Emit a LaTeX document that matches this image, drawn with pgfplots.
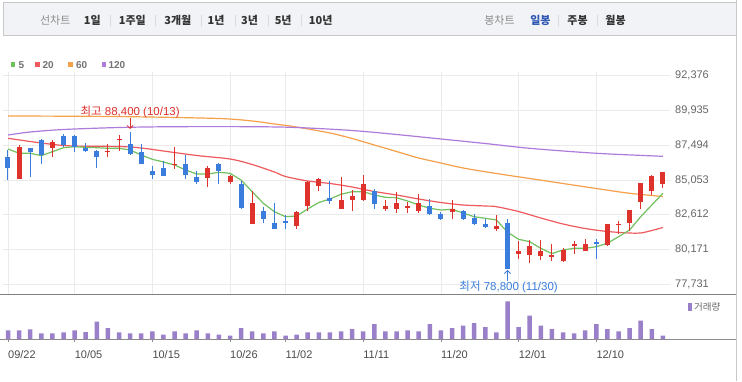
\documentclass[border=0pt]{standalone}
\usepackage{pgfplots}
\pgfplotsset{compat=1.18}
\usepackage{pgfplotstable}
\usepackage{fontspec}
\usetikzlibrary{arrows.meta}
\setmainfont{Liberation Sans}
\newfontfamily\kr{Noto Sans CJK KR}
\definecolor{cred}{HTML}{DE322D}
\definecolor{cblue}{HTML}{3B7DDD}
\definecolor{mafive}{HTML}{72C05E}
\definecolor{matwenty}{HTML}{EE5A5E}
\definecolor{masixty}{HTML}{F5A04A}
\definecolor{maonetwenty}{HTML}{AE7BDD}
\definecolor{vol}{HTML}{9A80C8}
\definecolor{gridc}{HTML}{EBEBEB}
\definecolor{txt}{HTML}{666666}
\definecolor{barfill}{HTML}{F1F3F6}
\definecolor{barline}{HTML}{C8C8C8}
\definecolor{seltxt}{HTML}{2F58B4}

\pgfplotstableread{
i O H L C
1 85100 87500 85100 87350
4 87300 87850 86700 87700
9 87000 87550 86700 87100
10 87850 88200 87100 87950
15 86100 87350 85850 86200
18 85200 86000 84550 85900
20 84900 85400 84800 85350
22 82000 84300 82000 83450
26 81800 82850 81650 82800
27 83250 84950 82850 84900
28 84600 85200 84250 85100
30 83050 85250 83050 83650
31 83650 84350 82900 83950
32 83650 85400 83600 84800
34 83050 83650 82900 83200
35 83050 84200 82750 83450
36 83100 83500 82750 83200
37 82850 84100 82750 83450
40 82800 83650 82300 83050
44 81600 82600 81500 81850
46 79900 80750 79550 80050
47 79800 80850 79250 80400
48 79750 80850 79450 80050
49 79650 80550 79350 79800
50 79350 80300 79300 80150
51 80400 80750 79900 80550
52 80100 80900 80050 80550
54 80500 82000 80400 81950
55 81900 82150 81250 82000
56 82050 82950 81500 82950
57 83500 84850 83050 84850
58 84300 85400 84000 85350
59 84750 85600 84500 85600
}\upT

\pgfplotstableread{
i O H L C
0 86700 87150 85050 85900
2 87300 87300 85250 87000
3 87850 87950 86200 86800
5 88150 88300 87400 87500
6 88150 88200 87050 87400
7 87300 87650 87000 87100
8 87100 87150 85900 86700
11 87600 88400 86800 86900
12 87000 87600 86150 86150
13 85650 86000 85150 85400
14 85900 86400 85300 85350
16 86200 86800 85100 85400
17 85250 85650 84800 84900
19 86200 86250 84800 85700
21 84750 84950 83050 83100
23 82900 83150 82050 82350
24 82050 83450 81650 81650
25 82200 82600 81650 82050
29 83800 84950 83400 83550
33 84250 84450 83050 83400
38 83200 83750 82600 82650
39 82650 82800 82250 82300
41 82900 82950 82250 82300
42 82400 82650 81900 81950
43 82000 82300 81700 81750
45 82050 82300 78800 78800
53 80700 80950 79550 80600
}\downT

\pgfplotstableread{
i v
0 87000
1 87000
2 97000
3 57000
4 57000
5 67000
6 87000
7 70000
8 173000
9 110000
10 67000
11 57000
12 57000
13 77000
14 43000
15 77000
16 57000
17 87000
18 57000
19 43000
20 33000
21 110000
22 77000
23 57000
24 77000
25 33000
26 43000
27 67000
28 67000
29 67000
30 77000
31 100000
32 77000
33 150000
34 77000
35 77000
36 87000
37 77000
38 150000
39 87000
40 110000
41 133000
42 160000
43 120000
44 67000
45 377000
46 120000
47 233000
48 133000
49 100000
50 67000
51 57000
52 87000
53 150000
54 100000
55 77000
56 110000
57 183000
58 100000
59 33000
}\volT

\begin{document}
\begin{tikzpicture}
\useasboundingbox (0pt,0pt) rectangle (742pt,381pt);
\fill[white] (0pt,0pt) rectangle (742pt,381pt);
% top bar
\filldraw[fill=barfill, draw=barline, line width=1pt] (3pt,345pt) rectangle (736pt,378pt);
\draw[barline, line width=1pt] (736pt,0pt) -- (736pt,381pt);
\begin{scope}[every node/.style={font=\kr\bfseries\fontsize{11}{13}\selectfont, inner sep=0pt, text=black!80}]
\node[text=black!45, font=\kr\fontsize{11}{13}\selectfont] at (55.2pt,360.3pt) {선차트};
\node at (92.3pt,360.3pt) {1일};
\node at (132.3pt,360.3pt) {1주일};
\node at (177.8pt,360.3pt) {3개월};
\node at (216pt,360.3pt) {1년};
\node at (249.5pt,360.3pt) {3년};
\node at (283.2pt,360.3pt) {5년};
\node at (320.7pt,360.3pt) {10년};
\node[text=black!45, font=\kr\fontsize{11}{13}\selectfont] at (499.5pt,360.3pt) {봉차트};
\node[text=seltxt] at (540.4pt,360.3pt) {일봉};
\node at (577.5pt,360.3pt) {주봉};
\node at (615.5pt,360.3pt) {월봉};
\end{scope}
\foreach \sx in {110,155,201.7,235,268.3,301.7,558.3,597.7}{
  \draw[black!15, line width=0.8pt] (\sx pt,355pt) -- (\sx pt,366pt);
}
% legend
\begin{scope}[every node/.style={font=\bfseries\fontsize{10}{12}\selectfont, text=black!55, inner sep=0pt, anchor=west}]
\fill[mafive] (10.7pt,313.7pt) rectangle (15.3pt,318.7pt); \node at (18.5pt,316.2pt) {5};
\fill[matwenty] (35pt,313.7pt) rectangle (39.6pt,318.7pt); \node at (42.3pt,316.2pt) {20};
\fill[masixty] (68.3pt,313.7pt) rectangle (72.9pt,318.7pt); \node at (75.8pt,316.2pt) {60};
\fill[maonetwenty] (101.7pt,313.7pt) rectangle (106.3pt,318.7pt); \node at (108.3pt,316.2pt) {120};
\end{scope}

% price panel
\begin{axis}[at={(3pt,87pt)}, anchor=south west, scale only axis,
  width=667pt, height=222pt,
  xmin=-0.4505, xmax=59.640, ymin=77066, ymax=92621,
  scaled y ticks=false,
  axis line style={draw=none}, major tick length=0pt,
  xtick={0,6,13,20,25,32,39,46,53}, xticklabels={},
  ytick={77731,80171,82612,85053,87494,89935,92376},
  yticklabels={{77,731},{80,171},{82,612},{85,053},{87,494},{89,935},{92,376}},
  yticklabel pos=right,
  yticklabel style={anchor=west, inner sep=0pt, xshift=5pt, font=\fontsize{11}{13}\selectfont, text=txt},
  xmajorgrids, ymajorgrids, grid style={gridc, line width=0.8pt},
  clip=false]
\addplot[matwenty, line width=1.2pt, smooth, mark=none] coordinates {(0,87976)(5,87471)(10,87401)(12,87296)(14,87086)(17,86770)(20,86525)(22,86140)(24,85614)(25,85299)(27,84984)(29,84810)(31,84563)(33,84248)(35,84003)(37,83722)(39,83477)(41,83302)(43,83232)(44,83183)(46,82846)(48,82391)(50,81971)(52,81655)(54,81445)(56,81340)(57,81340)(58,81515)(59,81725)};
\addplot[masixty, line width=1.2pt, smooth, mark=none] coordinates {(0,89538)(5,89524)(11,89489)(19,89363)(22,89188)(24,88978)(26,88767)(29,88347)(31,87962)(33,87506)(35,87051)(37,86595)(39,86245)(41,85895)(44,85509)(47,85159)(50,84808)(53,84458)(56,84122)(59,83898)};
\addplot[maonetwenty, line width=1.2pt, smooth, mark=none] coordinates {(0,88207)(2,88417)(5,88592)(10,88732)(15,88788)(22,88788)(26,88732)(31,88522)(35,88242)(39,87927)(43,87611)(47,87275)(53,86925)(59,86714)};
\addplot[mafive, line width=1.2pt, mark=none, line join=round] coordinates {(0,87226)(1,86925)(2,86925)(3,86756)(4,87037)(5,87317)(6,87387)(7,87345)(8,87317)(9,87275)(10,87275)(11,87156)(12,86805)(13,86504)(14,86315)(15,86105)(16,85754)(17,85474)(18,85474)(19,85593)(20,85523)(21,85054)(22,84234)(23,83421)(24,82832)(25,82482)(26,82531)(27,83022)(28,83477)(29,83722)(30,84052)(31,84234)(32,84234)(33,84003)(34,83841)(35,83813)(36,83582)(37,83302)(38,83071)(39,82952)(40,83001)(41,82741)(42,82482)(43,82370)(44,82251)(45,81400)(46,80900)(47,80730)(48,80268)(49,79900)(50,80149)(51,80268)(52,80268)(53,80380)(54,80618)(55,81081)(56,81550)(57,82482)(58,83302)(59,84122)};
% wicks
\addplot[draw=none, mark=none, error bars/.cd, y dir=plus, y explicit, error mark=none, error bar style={draw=cred, line width=1pt}]
  table[x=i, y=L, y error plus expr=\thisrow{H}-\thisrow{L}] {\upT};
\addplot[draw=none, mark=none, error bars/.cd, y dir=plus, y explicit, error mark=none, error bar style={draw=cblue, line width=1pt}]
  table[x=i, y=L, y error plus expr=\thisrow{H}-\thisrow{L}] {\downT};
% bodies
\addplot[draw=none, mark=none, error bars/.cd, y dir=plus, y explicit, error mark=none, error bar style={draw=cred, line width=5pt}]
  table[x=i, y=O, y error plus expr=\thisrow{C}-\thisrow{O}] {\upT};
\addplot[draw=none, mark=none, error bars/.cd, y dir=plus, y explicit, error mark=none, error bar style={draw=cblue, line width=5pt}]
  table[x=i, y=C, y error plus expr=\thisrow{O}-\thisrow{C}] {\downT};
% annotations
\node[text=cred, font=\fontsize{11.5}{13}\selectfont, inner sep=0pt] at (axis cs:11,89797) {{\kr 최고} 88,400 (10/13)};
\draw[cred, line width=0.8pt, -{Straight Barb[length=3pt,width=6pt]}] (axis cs:11,89398) -- (axis cs:11,88627);
\node[text=cblue, font=\fontsize{11.5}{13}\selectfont, inner sep=0pt] at (axis cs:45.1,77556) {{\kr 최저} 78,800 (11/30)};
\draw[cblue, line width=0.8pt, -{Straight Barb[length=3pt,width=6pt]}] (axis cs:45,77976) -- (axis cs:45,78748);
\end{axis}

\draw[black!50, line width=1pt] (0pt,87pt) -- (736pt,87pt);
\draw[black!45, line width=0.8pt] (0pt,42pt) -- (736pt,42pt);

% volume panel
\begin{axis}[at={(3pt,42pt)}, anchor=south west, scale only axis,
  width=667pt, height=42pt,
  xmin=-0.4505, xmax=59.640, ymin=0, ymax=420000,
  scaled y ticks=false,
  axis line style={draw=none}, ytick=\empty,
  xtick={0,6,13,20,25,32,39,46,53},
  xticklabels={09/22,10/05,10/15,10/26,11/02,11/11,11/20,12/01,12/10},
  xtick pos=left, tick align=center, major tick length=6pt,
  tick style={draw=black!45, line width=0.8pt},
  xticklabel style={anchor=north west, inner sep=0pt, yshift=-8pt, font=\fontsize{11}{13}\selectfont, text=black!70},
  clip=false]
\addplot[ybar, bar width=4.5pt, fill=vol, draw=none] table[x=i, y=v] {\volT};
\end{axis}
\fill[vol] (688pt,70pt) rectangle (691.5pt,78pt);
\node[anchor=west, inner sep=0pt, text=black!60, font=\kr\fontsize{9.5}{11}\selectfont] at (694pt,74pt) {거래량};
\end{tikzpicture}
\end{document}
